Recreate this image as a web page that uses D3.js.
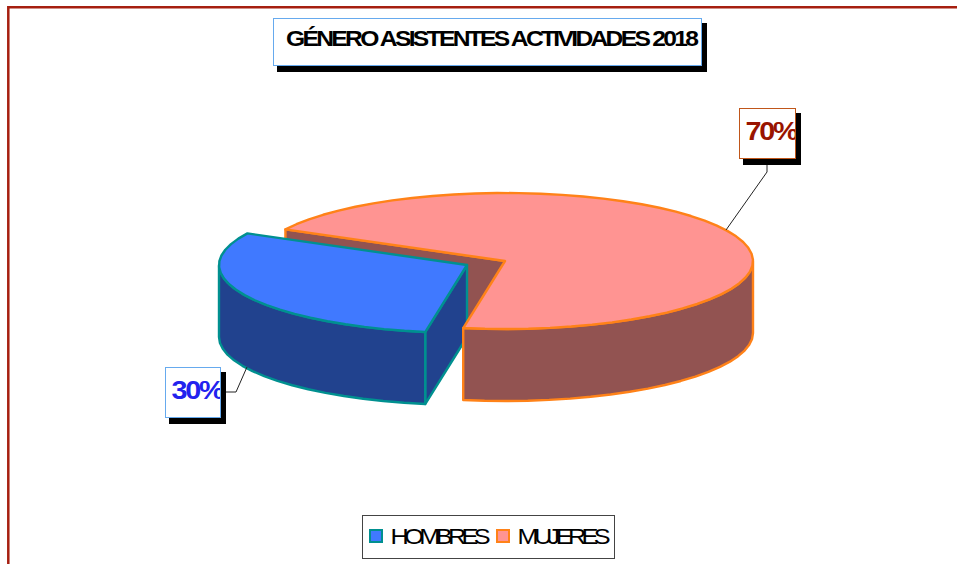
<!DOCTYPE html>
<html><head><meta charset="utf-8">
<script src="https://cdn.jsdelivr.net/npm/d3@7"></script>
<style>html,body{margin:0;padding:0;background:#fff}svg{display:block}text{font-family:"Liberation Sans",Arial,sans-serif}</style>
</head><body><svg id="c" width="957" height="564"></svg>
<script>
const categories = ["HOMBRES", "MUJERES"];
const values = [30, 70];
const valueLabels = ["30%", "70%"];
const titleText = "GÉNERO ASISTENTES ACTIVIDADES 2018";
const topColors = ["#4079FF", "#FF9492"];
const sideColors = ["#21428E", "#925351"];
const edgeColors = ["#009090", "#FF8218"];
const labelColors = ["#2222EE", "#991400"];
const labelBorders = ["#66AAEE", "#C0561A"];

const svg = d3.select("#c");
const rx = 248, ry = 68, depth = 72;
const centers = [[467, 265], [505, 261]];
const startDeg = 189.7;
const pie = d3.pie().sort(null).startAngle(startDeg * Math.PI / 180).endAngle((startDeg + 360) * Math.PI / 180);
const arcs = pie(values);
const pt = (c, a, d = 0) => [c[0] + rx * Math.sin(a), c[1] - ry * Math.cos(a) + d];
const rim = (c, a0, a1, d = 0) => {
  const n = Math.max(2, Math.round(Math.abs(a1 - a0) / (5 * Math.PI / 180)));
  return d3.range(0, n + 1).map(i => pt(c, a0 + (a1 - a0) * i / n, d));
};
const line = d3.line();

// frame
svg.append("path").attr("d", "M8.3 564V7.3H957").attr("fill", "none").attr("stroke", "#A61F10").attr("stroke-width", 2.5);

const group = i => svg.append("g").attr("stroke", edgeColors[i]).attr("stroke-width", 2.4).attr("stroke-linejoin", "round");
const side = (g, i, p) => g.append("path").attr("d", line(p) + "Z").attr("fill", sideColors[i]);
const cutFace = (g, i, a) => {
  const c = centers[i], p = pt(c, a);
  side(g, i, [c, p, [p[0], p[1] + depth], [c[0], c[1] + depth]]);
};
const wall = (g, i, w0, w1) => {
  const c = centers[i];
  side(g, i, rim(c, w0, w1).concat(rim(c, w1, w0, depth)));
};
const topFace = (g, i) => {
  const c = centers[i], A = arcs[i];
  g.append("path").attr("d", line([c].concat(rim(c, A.startAngle, A.endAngle))) + "Z").attr("fill", topColors[i]);
};

// women's rear cut face goes behind the men's slice
cutFace(group(1), 1, arcs[1].startAngle);
// men's slice
const gm = group(0);
cutFace(gm, 0, arcs[0].startAngle);
wall(gm, 0, arcs[0].startAngle, 1.5 * Math.PI);
topFace(gm, 0);
// women's wall and top in front
const gw = group(1);
wall(gw, 1, 2.5 * Math.PI, arcs[1].endAngle);
topFace(gw, 1);

// leader lines
const leaders = [[[247, 367], [236, 392], [220, 392]], [[726, 230], [767, 172], [767, 160]]];
leaders.forEach(l => svg.append("path").attr("d", line(l)).attr("fill", "none").attr("stroke", "#222").attr("stroke-width", 1));

function box(x, y, w, h, border) {
  svg.append("rect").attr("x", x + 4).attr("y", y + 5).attr("width", w + 2).attr("height", h + 2).attr("fill", "#000");
  svg.append("rect").attr("x", x + .5).attr("y", y + .5).attr("width", w).attr("height", h).attr("fill", "#fff").attr("stroke", border).attr("stroke-width", 1);
}
// title
box(273, 18, 428, 47, "#66AAEE");
svg.append("text").attr("transform", "translate(286,46) scale(1.12,1)").attr("font-size", 22).attr("font-weight", "bold").attr("letter-spacing", -2.4).text(titleText);

// value labels
const labelBoxes = [[165, 367, 55, 50], [739, 108, 56, 50]];
valueLabels.forEach((t, i) => {
  const b = labelBoxes[i];
  box(b[0], b[1], b[2], b[3], labelBorders[i]);
  const id = "clip" + i;
  svg.append("clipPath").attr("id", id).append("rect").attr("x", b[0]).attr("y", b[1]).attr("width", b[2]).attr("height", b[3]);
  svg.append("g").attr("clip-path", `url(#${id})`).append("text")
    .attr("transform", `translate(${b[0] + 6.5},${b[1] + 32}) scale(1.15,1)`)
    .attr("font-size", 25).attr("font-weight", "bold").attr("letter-spacing", -2).attr("fill", labelColors[i]).text(t);
});

// legend
svg.append("rect").attr("x", 362.5).attr("y", 515.5).attr("width", 252).attr("height", 43).attr("fill", "#fff").attr("stroke", "#444").attr("stroke-width", 1);
const legendX = d3.scaleOrdinal().domain(categories).range([370, 497]);
categories.forEach((c, i) => {
  const x = legendX(c);
  svg.append("rect").attr("x", x).attr("y", 530).attr("width", 12).attr("height", 12).attr("fill", topColors[i]).attr("stroke", edgeColors[i]).attr("stroke-width", 2);
  svg.append("text").attr("transform", `translate(${x + 20.5},544) scale(1.15,1)`).attr("font-size", 22).attr("letter-spacing", -4).text(c);
});
</script></body></html>
